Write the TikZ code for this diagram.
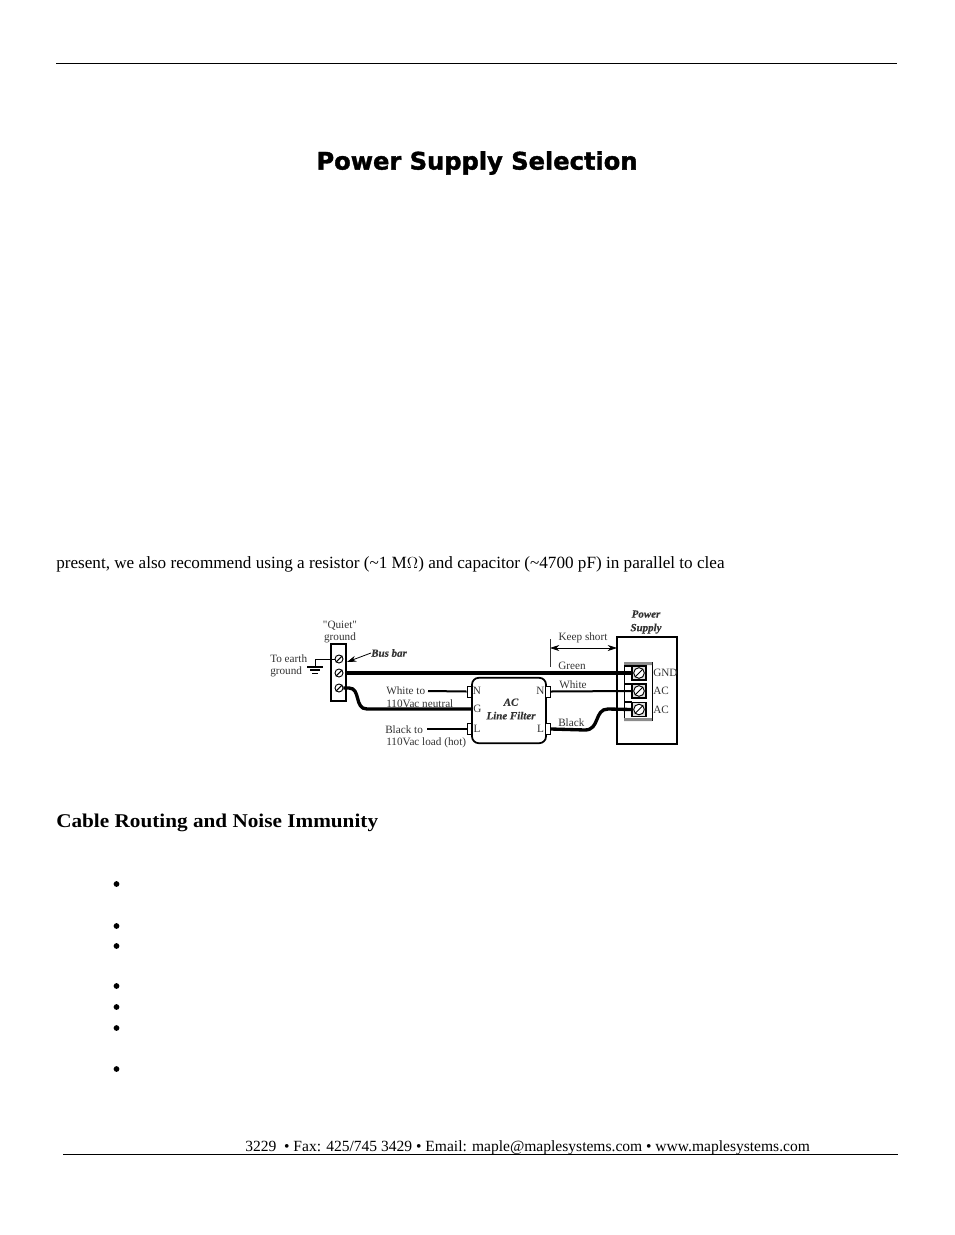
\documentclass[tikz,border=0pt]{standalone}
\usepackage{fontspec}
\setmainfont{Liberation Serif}
\newfontfamily\labfont{Liberation Serif}
\newfontfamily\labital[FakeBold=0.2]{Liberation Serif Bold Italic}
\newfontfamily\headfont[FakeBold=1.6]{DejaVu Sans Bold}
\newfontfamily\subfont[FakeStretch=1.09]{Liberation Serif Bold}
\usetikzlibrary{arrows.meta}
\tikzset{
  page/.style={x=0.75pt,y=-0.75pt},
  rule/.style={draw=black,line width=0.75pt},
  thin wire/.style={draw=black,line width=1.5pt},
  thick wire/.style={draw=black,line width=2.5pt},
  outline/.style={draw=black,line width=1.3pt},
  lab/.style={inner sep=0pt,font=\labfont\fontsize{8.4}{9.3}\selectfont,text=black!80,align=left},
  ital/.style={lab,font=\labital\fontsize{8.2}{10.2}\selectfont},
  body/.style={inner sep=0pt,anchor=base west,font=\fontsize{12.86}{14}\selectfont},
  dot/.style={circle,fill=black,inner sep=0pt,minimum size=4.3pt},
  screw/.style={circle,draw=black,line width=0.7pt,inner sep=0pt,minimum size=8pt},
  termbox/.style={draw=black,line width=0.9pt,fill=black!12,minimum width=10.5pt,minimum height=10.5pt,inner sep=0pt},
  tab/.style={draw=black,line width=0.7pt,fill=white,minimum width=3.6pt,minimum height=8.3pt,inner sep=0pt}
}
\begin{document}
\begin{tikzpicture}[page]
\useasboundingbox (0,0) rectangle (954,1235);
\coordinate (rA) at (56,63); \coordinate (rB) at (897,63);
\draw[rule] (rA) -- (rB);
\coordinate (fA) at (63,1154.5); \coordinate (fB) at (898,1154.5);
\draw[rule] (fA) -- (fB);
\node[inner sep=0pt,font=\headfont\fontsize{18.1}{20}\selectfont] (title) at (477,163) {Power Supply Selection};
\node[body] (para) at (56,568) {present, we also recommend using a resistor (\char"007E 1 M$\Omega$) and capacitor (\char"007E 4700 pF) in parallel to clea};
\node[inner sep=0pt,anchor=base west,font=\subfont\fontsize{14.6}{16}\selectfont] (sub) at (56,827) {Cable Routing and Noise Immunity};
\foreach \n/\y in {a/884,b/926,c/946,d/986,e/1007,f/1028,g/1069}
  \node[dot] (b\n) at (116.5,\y) {};
\node[inner sep=0pt,anchor=base west,font=\fontsize{11.66}{13}\selectfont] (foot) at (245,1151) {3229\ \ • Fax: 425/745 3429 • Email: maple@maplesystems.com • www.maplesystems.com};
% bus bar
\node[outline,minimum width=11pt,minimum height=42.5pt,inner sep=0pt,fill=white] (bus) at (338.5,672.5) {};
\node[screw,minimum size=6pt] (s1) at (339,659) {};
\node[screw,minimum size=6pt] (s2) at (339,673) {};
\node[screw,minimum size=6pt] (s3) at (339,688) {};
\foreach \s in {s1,s2,s3} \draw[line width=0.8pt] (\s.south west) -- (\s.north east);
\node[lab,align=center] (quiet) at (340,632) {"Quiet"\\ground};
\node[lab,anchor=west] (earth) at (270,666) {To earth\\ground};
\node[ital,anchor=west] (busl) at (371,653) {Bus bar};
\draw[-{Stealth[length=7pt,width=4.5pt]},line width=0.6pt] (busl.west) -- (347,662);
% ground
\coordinate (g0) at (315,667);
\draw[line width=0.7pt] (s1.west) -- (315,659) -- (g0);
\draw[line width=0.9pt] (307,667) -- (323,667) (310,670) -- (320,670);
\draw[line width=1.2pt] (312,673.5) -- (318,673.5);
% filter
\node[outline,fill=white,minimum width=55.5pt,minimum height=49pt,inner sep=0pt,rounded corners=5pt] (filt) at (509,710.5) {};
\node[tab] (tN) at (469.5,691.5) {};
\node[tab] (tL) at (469.5,729) {};
\node[tab] (rN) at (548,691.5) {};
\node[tab] (rL) at (548,729) {};
\node[lab] at (477,691) {N};
\node[lab] at (477.5,709) {G};
\node[lab] at (477,729) {L};
\node[lab] at (540.5,691) {N};
\node[lab] at (540.5,729) {L};
\node[ital,align=center] (fl) at (511,709) {AC\\Line Filter};
% power supply
\node[draw=black,line width=1.5pt,minimum width=45pt,minimum height=80pt,inner sep=0pt] (ps) at (647,690.5) {};
\node[draw=black,line width=0.6pt,fill=white,minimum width=21pt,minimum height=44pt,inner sep=0pt] (block) at (638,691.5) {};
\fill[black!45] (624,662) rectangle (652,665) (624,718) rectangle (652,721);
\node[termbox] (t1) at (639,673) {};
\node[termbox] (t2) at (639,691) {};
\node[termbox] (t3) at (639,709.5) {};
\foreach \n in {t1,t2,t3}{
  \node[screw,fill=white] (c\n) at (\n) {};
  \draw[line width=0.7pt] (c\n.south west) -- (c\n.north east);
}
\foreach \yy in {666,684,702} \draw[line width=0.9pt] (624,\yy) -- (632,\yy);
\node[lab,anchor=west] at (653,673) {GND};
\node[lab,anchor=west] at (653,691) {AC};
\node[lab,anchor=west] at (653,710) {AC};
\node[ital,align=center] at (646,622) {Power\\Supply};
% wires
\draw[thick wire] (bus.east |- s2) -- (t1.west);
\draw[thin wire] (rN.east) -- (t2.west);
\draw[thick wire] (rL.east) -- (585,730) .. controls (600,730) and (594,709) .. (608,709) -- (t3.west);
\draw[thick wire] (s3.east) -- (349,688) .. controls (361,688) and (354,709) .. (367,709) -- (filt.west |- 0,709);
\coordinate (wW) at (428,691); \coordinate (wB) at (427,729);
\draw[thin wire] (wW) -- (tN.west);
\draw[thick wire,line width=1.9pt] (wB) -- (tL.west);
\node[lab,anchor=west] at (386,691) {White to};
\node[lab,anchor=west] at (386,704) {110Vac neutral};
\node[lab,anchor=west] at (385,729.5) {Black to};
\node[lab,anchor=west] at (386,742.5) {110Vac load (hot)};
\node[lab,anchor=west] at (558,666) {Green};
\node[lab,anchor=west] at (559,685) {White};
\node[lab,anchor=west] at (558,722.5) {Black};
\node[lab] at (583,638) {Keep short};
\coordinate (kA) at (550,648); \coordinate (kB) at (617,648);
\draw[{Stealth[length=7pt,width=4.5pt]}-{Stealth[length=7pt,width=4.5pt]},line width=0.5pt] (kA) -- (kB);
\coordinate (vA) at (550,639); \coordinate (vB) at (550,667);
\draw[line width=0.5pt,black!80] (vA) -- (vB);
\end{tikzpicture}
\end{document}
